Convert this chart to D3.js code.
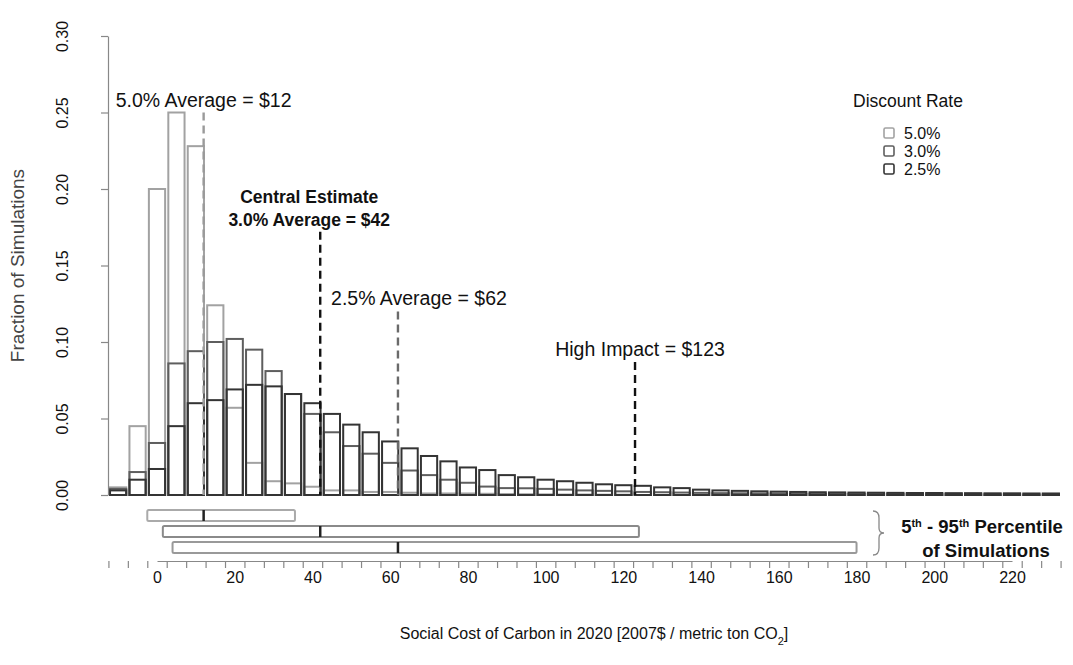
<!DOCTYPE html>
<html>
<head>
<meta charset="utf-8">
<script src="https://cdn.jsdelivr.net/npm/d3@7"></script>
<style>
  body { margin: 0; background: #fff; }
  text { font-family: "Liberation Sans", Arial, sans-serif; fill: #111; }
</style>
</head>
<body>
<div id="chart"></div>
<script>
// histogram bins (centre of each $5 bin)
var binCenters = [-10, -5, 0, 5, 10, 15, 20, 25, 30, 35, 40, 45, 50, 55, 60, 65, 70, 75, 80, 85,
  90, 95, 100, 105, 110, 115, 120, 125, 130, 135, 140, 145, 150, 155, 160, 165, 170, 175, 180,
  185, 190, 195, 200, 205, 210, 215, 220, 225, 230];

var rate50 = [0.005, 0.045, 0.200, 0.250, 0.228, 0.124, 0.057, 0.021, 0.009, 0.0076, 0.0054, 0.003,
  0.003, 0.002, 0.002, 0.0015, 0.001, 0.001, 0.001, 0.0008, 0.0006, 0.0005, 0.0004, 0.0003, 0.0003,
  0.0002, 0.0002, 0, 0, 0, 0, 0, 0, 0, 0, 0, 0, 0, 0, 0, 0, 0, 0, 0, 0, 0, 0, 0, 0];

var rate30 = [0.004, 0.015, 0.034, 0.086, 0.094, 0.100, 0.102, 0.095, 0.081, 0.066, 0.053, 0.041,
  0.032, 0.027, 0.021, 0.016, 0.013, 0.010, 0.008, 0.0055, 0.0045, 0.0044, 0.004, 0.0035, 0.003,
  0.0027, 0.0024, 0.002, 0.0018, 0.0016, 0.0014, 0.0012, 0.0011, 0.001, 0.0009, 0.0008, 0.0008,
  0.0007, 0.0007, 0.0006, 0.0006, 0.0005, 0.0005, 0.0005, 0.0004, 0.0004, 0.0004, 0.0003, 0.0003];

var rate25 = [0.003, 0.010, 0.017, 0.045, 0.060, 0.062, 0.069, 0.072, 0.071, 0.066, 0.060, 0.053,
  0.046, 0.041, 0.035, 0.0305, 0.0255, 0.022, 0.018, 0.0163, 0.013, 0.0116, 0.010, 0.009, 0.008,
  0.007, 0.0064, 0.006, 0.005, 0.0045, 0.0035, 0.003, 0.0027, 0.0024, 0.0022, 0.002, 0.0018,
  0.0017, 0.0016, 0.0015, 0.0014, 0.0013, 0.0013, 0.0012, 0.0012, 0.0011, 0.0011, 0.001, 0.001];

var rateNames = ["5.0%", "3.0%", "2.5%"];
var rateColors = ["#a2a2a2", "#5e5e5e", "#343434"];
var boxColors = ["#aaaaaa", "#8a8a8a", "#999999"];

// averages and 5th-95th percentile range per discount rate
var rateAverages = [12, 42, 62];
var rateP5 = [-2.5, 1.5, 4];
var rateP95 = [35.5, 124, 180];
var highImpact = 123;

var xTickLabels = [0, 20, 40, 60, 80, 100, 120, 140, 160, 180, 200, 220];
var yTickLabels = [0, 0.05, 0.10, 0.15, 0.20, 0.25, 0.30];

var svgWidth = 1073;
var svgHeight = 665;

var svg = d3.select("#chart")
  .append("svg")
  .attr("width", svgWidth)
  .attr("height", svgHeight);

var xScale = d3.scaleLinear().domain([0, 220]).range([157, 1012]);
var yScale = d3.scaleLinear().domain([0, 0.30]).range([495, 36]);
var binWidth = xScale(5) - xScale(0);

// bars, one layer per discount rate, drawn light to dark
var series = [rate50, rate30, rate25];
series.forEach(function (values, i) {
  svg.append("g")
    .selectAll("rect")
    .data(values)
    .enter()
    .append("rect")
    .attr("x", (d, j) => xScale(binCenters[j]) - binWidth / 2 + 1.6)
    .attr("y", d => yScale(d))
    .attr("width", binWidth - 3.2)
    .attr("height", d => yScale(0) - yScale(d))
    .attr("fill", "none")
    .attr("stroke", rateColors[i])
    .attr("stroke-width", 2);
});

// dashed lines for averages + high impact
var markers = [
  { value: rateAverages[0], top: 0.250, color: "#9a9a9a", lines: ["5.0% Average = $12"], bold: false, dx: 0 },
  { value: rateAverages[1], top: 0.172, color: "#111", lines: ["Central Estimate", "3.0% Average = $42"], bold: true, dx: -11 },
  { value: rateAverages[2], top: 0.120, color: "#6a6a6a", lines: ["2.5% Average = $62"], bold: false, dx: 21 },
  { value: highImpact, top: 0.087, color: "#111", lines: ["High Impact = $123"], bold: false, dx: 5 }
];

markers.forEach(function (m) {
  svg.append("line")
    .attr("x1", xScale(m.value))
    .attr("x2", xScale(m.value))
    .attr("y1", yScale(m.top))
    .attr("y2", yScale(0))
    .attr("stroke", m.color)
    .attr("stroke-width", 2.4)
    .attr("stroke-dasharray", "8,5");

  m.lines.forEach(function (t, k) {
    svg.append("text")
      .attr("x", xScale(m.value) + m.dx)
      .attr("y", yScale(m.top) - 6 - (m.lines.length - 1 - k) * 23)
      .attr("text-anchor", "middle")
      .attr("font-size", m.bold ? 17.5 : 19.5)
      .attr("font-weight", m.bold ? "bold" : "normal")
      .text(t);
  });
});

// y axis
var leftAxis = d3.axisLeft(yScale)
  .tickValues(yTickLabels)
  .tickFormat(d3.format(".2f"))
  .tickSize(7)
  .tickSizeOuter(0);

var yAxis = svg.append("g")
  .attr("transform", "translate(108,0)")
  .call(leftAxis);
yAxis.select(".domain").attr("stroke", "#888").attr("stroke-width", 1.2);
yAxis.selectAll(".tick line").attr("stroke", "#888").attr("stroke-width", 1.2);
yAxis.selectAll(".tick text")
  .attr("x", 0)
  .attr("y", 0)
  .attr("dy", "0.35em")
  .attr("text-anchor", "middle")
  .attr("transform", "translate(-46,0) rotate(-90)")
  .attr("font-size", 16)
  .attr("font-family", "Liberation Sans, Arial, sans-serif")
  .attr("fill", "#222");

svg.append("text")
  .attr("transform", `translate(24, ${(yScale(0) + yScale(0.3)) / 2}) rotate(-90)`)
  .attr("text-anchor", "middle")
  .attr("font-size", 19)
  .style("fill", "#444")
  .text("Fraction of Simulations");

// 5th - 95th percentile boxes
var boxTop = [510, 526, 542];
rateNames.forEach(function (name, i) {
  svg.append("rect")
    .attr("x", xScale(rateP5[i]))
    .attr("y", boxTop[i])
    .attr("width", xScale(rateP95[i]) - xScale(rateP5[i]))
    .attr("height", 11)
    .attr("rx", 1.5)
    .attr("fill", "#fff")
    .attr("stroke", boxColors[i])
    .attr("stroke-width", 2);
  svg.append("line")
    .attr("x1", xScale(rateAverages[i]))
    .attr("x2", xScale(rateAverages[i]))
    .attr("y1", boxTop[i])
    .attr("y2", boxTop[i] + 11)
    .attr("stroke", "#222")
    .attr("stroke-width", 2.5);
});

svg.append("path")
  .attr("d", "M873,511 Q879,511 879,518 L879,528 Q879,533 884,533 Q879,533 879,538 L879,548 Q879,555 873,555")
  .attr("fill", "none")
  .attr("stroke", "#888")
  .attr("stroke-width", 1.3);

var pctText = svg.append("text")
  .attr("x", 982)
  .attr("y", 533)
  .attr("text-anchor", "middle")
  .attr("font-size", 18.5)
  .attr("font-weight", "bold");
pctText.append("tspan").text("5");
pctText.append("tspan").attr("baseline-shift", "super").attr("font-size", 11).text("th");
pctText.append("tspan").text(" - 95");
pctText.append("tspan").attr("baseline-shift", "super").attr("font-size", 11).text("th");
pctText.append("tspan").text(" Percentile");

svg.append("text")
  .attr("x", 986)
  .attr("y", 557)
  .attr("text-anchor", "middle")
  .attr("font-size", 18.5)
  .attr("font-weight", "bold")
  .text("of Simulations");

// x axis: ticks at bin edges, labels every $20
var binEdges = binCenters.map(c => c - 2.5).concat([binCenters[binCenters.length - 1] + 2.5]);

var edgeAxis = d3.axisBottom(xScale)
  .tickValues(binEdges)
  .tickFormat("")
  .tickSize(7)
  .tickSizeOuter(0);

var xAxis = svg.append("g")
  .attr("transform", "translate(0,561)")
  .call(edgeAxis);
xAxis.select(".domain").attr("stroke", "#888").attr("stroke-width", 1.2);
xAxis.selectAll(".tick line").attr("stroke", "#888").attr("stroke-width", 1.2);

var labelAxis = d3.axisBottom(xScale)
  .tickValues(xTickLabels)
  .tickSize(0)
  .tickPadding(0);

var xLabels = svg.append("g")
  .attr("transform", "translate(0,572)")
  .call(labelAxis);
xLabels.select(".domain").remove();
xLabels.selectAll(".tick text")
  .attr("font-size", 16)
  .attr("font-family", "Liberation Sans, Arial, sans-serif")
  .attr("fill", "#111");

var xTitle = svg.append("text")
  .attr("x", 594)
  .attr("y", 639)
  .attr("text-anchor", "middle")
  .attr("font-size", 16);
xTitle.append("tspan").text("Social Cost of Carbon in 2020 [2007$ / metric ton CO");
xTitle.append("tspan").attr("baseline-shift", "sub").attr("font-size", 11).text("2");
xTitle.append("tspan").text("]");

// legend
svg.append("text")
  .attr("x", 908)
  .attr("y", 107)
  .attr("text-anchor", "middle")
  .attr("font-size", 17.5)
  .text("Discount Rate");

var legend = svg.append("g")
  .selectAll("g")
  .data(rateNames)
  .enter()
  .append("g")
  .attr("transform", (d, i) => `translate(884, ${128 + i * 18})`);

legend.append("rect")
  .attr("width", 10)
  .attr("height", 10)
  .attr("rx", 1.5)
  .attr("fill", "#fff")
  .attr("stroke", (d, i) => rateColors[i])
  .attr("stroke-width", 1.6);

legend.append("text")
  .attr("x", 20)
  .attr("y", 5)
  .attr("dy", "0.35em")
  .attr("font-size", 16)
  .text(d => d);
</script>
</body>
</html>
